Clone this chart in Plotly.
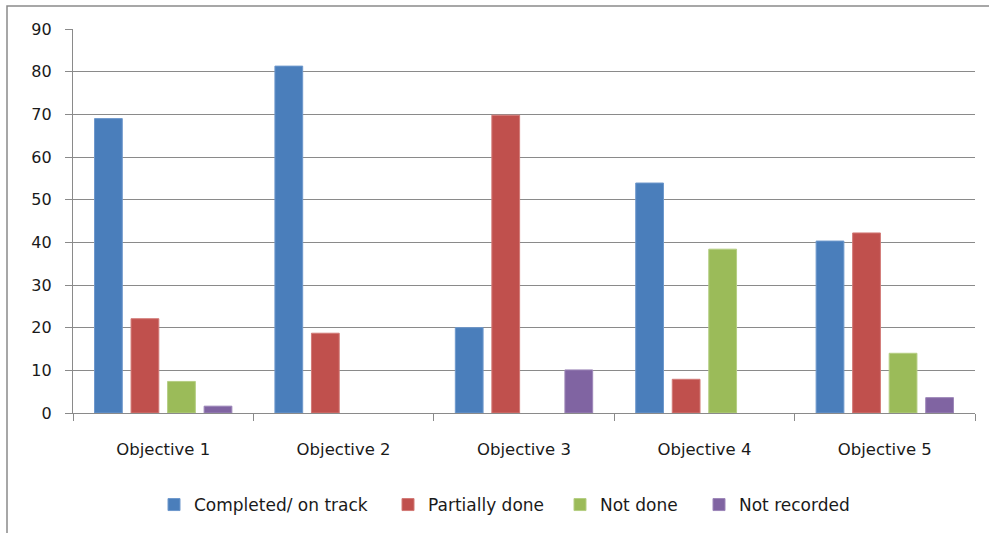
import plotly.graph_objects as go

categories = ["Objective 1", "Objective 2", "Objective 3", "Objective 4", "Objective 5"]
completed = [69, 81.3, 20, 53.9, 40.3]
partially = [22.1, 18.7, 69.8, 7.9, 42.2]
not_done = [7.4, 0, 0, 38.4, 14.0]
not_recorded = [1.6, 0, 10.1, 0, 3.6]

series = [
    ("Completed/ on track", completed, "#4A7EBB", "#6E98CC"),
    ("Partially done", partially, "#C0504D", "#D27A77"),
    ("Not done", not_done, "#9BBB59", "#B5CE83"),
    ("Not recorded", not_recorded, "#8064A2", "#9D87B9"),
]
legend_names = ["legend", "legend2", "legend3", "legend4"]
legend_left_px = [154, 388, 560, 699]

FONT = "DejaVu Sans"
GRID = "#8A8A8A"
PL, PR, PT, PB = 73, 975, 29, 413
PW, PH = PR - PL, PB - PT

fig = go.Figure()
for (name, vals, col, edge), lg in zip(series, legend_names):
    fig.add_trace(go.Bar(
        name=name, x=categories, y=vals, legend=lg,
        marker=dict(color=col, line=dict(color=edge, width=[1 if v > 0 else 0 for v in vals])),
    ))

legend_common = dict(orientation="h", xanchor="left", y=(PB - 505) / PH, yanchor="middle",
                     font=dict(family=FONT, size=17, color="#1A1A1A"),
                     bgcolor="rgba(0,0,0,0)")
layout_legends = {}
for lg, px in zip(legend_names, legend_left_px):
    layout_legends[lg] = dict(legend_common, x=(px - PL) / PW)

fig.update_layout(
    width=989, height=533,
    margin=dict(l=PL, r=989 - PR, t=PT, b=533 - PB, autoexpand=False),
    paper_bgcolor="white", plot_bgcolor="white",
    barmode="group", bargap=0.19, bargroupgap=0.24,
    font=dict(family=FONT, size=16, color="#1A1A1A"),
    showlegend=True,
    xaxis=dict(
        type="category", range=[-0.5, 4.5],
        showline=True, linecolor=GRID, linewidth=1.3,
        ticks="outside", tickson="boundaries", ticklen=7, tickcolor=GRID, tickwidth=1.3,
        showgrid=False, ticklabelstandoff=21, automargin=False,
        tickfont=dict(family=FONT, size=16.5, color="#1A1A1A"),
    ),
    yaxis=dict(
        range=[0, 90], dtick=10, tick0=0,
        showline=True, linecolor=GRID, linewidth=1.3,
        ticks="outside", ticklen=7, tickcolor=GRID, tickwidth=1.3,
        showgrid=True, gridcolor=GRID, gridwidth=1.3,
        zeroline=False, ticklabelstandoff=10, automargin=False,
        tickfont=dict(family=FONT, size=16, color="#1A1A1A"),
    ),
    shapes=[dict(type="rect", xref="paper", yref="paper",
                 x0=(7 - PL) / PW, x1=(1000 - PL) / PW,
                 y0=(PB - 545) / PH, y1=(PB - 6) / PH,
                 line=dict(color=GRID, width=1.5), fillcolor="rgba(0,0,0,0)", layer="below")],
    **layout_legends,
)

fig.write_html("out.html")
